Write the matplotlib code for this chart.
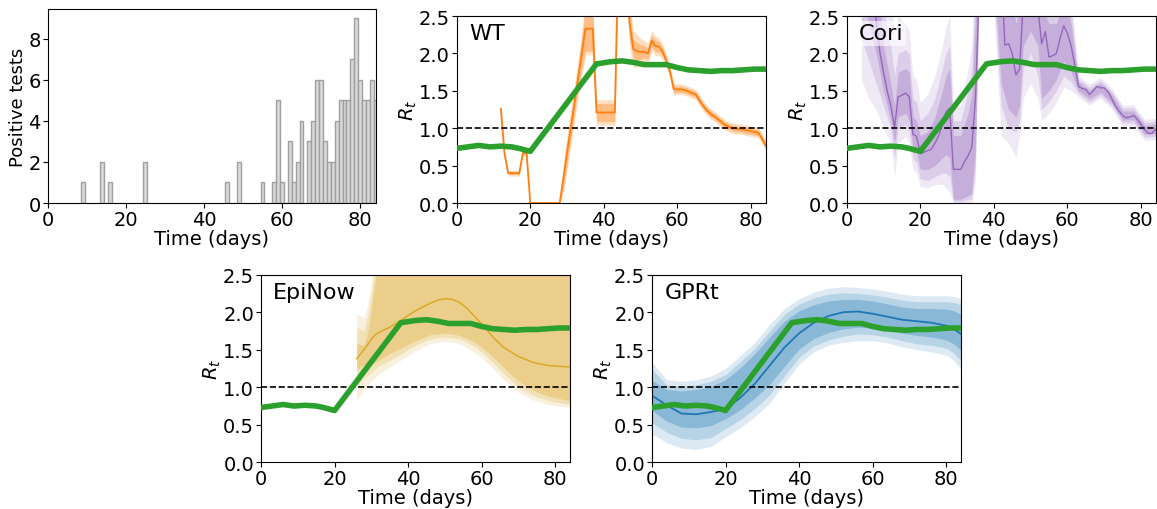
import matplotlib
matplotlib.use('Agg')
import matplotlib.pyplot as plt
import numpy as np

# ---- data ----

# positive tests per day
hist_days = [9, 14, 16, 25, 46, 49, 55, 58, 59, 60, 62, 63, 64, 65, 67, 68, 69, 70,
             71, 72, 73, 74, 75, 76, 77, 78, 79, 80, 81, 82, 83, 84]
hist_counts = [1, 2, 1, 2, 1, 2, 1, 1, 5, 1, 3, 1, 2, 4, 3, 4, 6, 6,
               3, 2, 2, 4, 5, 5, 5, 7, 9, 6, 5, 5, 6, 5]

# true Rt (green)
true_days = [0, 3, 6, 9, 12, 15, 17, 20, 38, 42, 45, 48, 51, 54, 57, 60, 63, 66,
             69, 72, 75, 78, 81, 84]
true_rt = [0.73, 0.75, 0.77, 0.75, 0.76, 0.75, 0.73, 0.69, 1.86, 1.89, 1.90, 1.88,
           1.85, 1.85, 1.85, 1.81, 1.78, 1.77, 1.76, 1.77, 1.77, 1.78, 1.79, 1.79]

# WT estimate, days 12..84
wt_days = np.arange(12, 85)
wt_mean = [1.26, 0.66, 0.40, 0.40, 0.40, 0.40, 0.67, 0.67, 0.00, 0.00,
           0.00, 0.00, 0.00, 0.00, 0.00, 0.00, 0.00, 0.33, 0.67, 1.00,
           1.33, 1.67, 2.00, 2.33, 2.33, 2.33, 1.21, 1.21, 1.21, 1.21,
           1.21, 1.21, 3.50, 3.60, 3.20, 2.40, 2.06, 2.03, 2.02, 2.02,
           2.00, 2.17, 2.10, 2.09, 2.02, 1.90, 1.75, 1.52, 1.52, 1.52,
           1.51, 1.49, 1.47, 1.45, 1.37, 1.30, 1.24, 1.19, 1.16, 1.12,
           1.08, 1.04, 1.02, 1.00, 0.99, 0.99, 0.98, 0.97, 0.96, 0.95, 0.94, 0.86, 0.77]
wt_w_in = [0.02, 0.02, 0.02, 0.02, 0.02, 0.02, 0.02, 0.02, 0.00, 0.00,
           0.00, 0.00, 0.00, 0.00, 0.00, 0.00, 0.00, 0.12, 0.15, 0.15,
           0.15, 0.15, 0.20, 0.30, 0.30, 0.30, 0.12, 0.12, 0.12, 0.12,
           0.12, 0.12, 0.30, 0.30, 0.30, 0.20, 0.12, 0.12, 0.10, 0.08,
           0.08, 0.08, 0.08, 0.07, 0.06, 0.05, 0.05, 0.05, 0.04, 0.04,
           0.04, 0.04, 0.04, 0.04, 0.04, 0.04, 0.04, 0.04, 0.04, 0.04,
           0.04, 0.04, 0.04, 0.04, 0.04, 0.04, 0.04, 0.04, 0.04, 0.04, 0.04, 0.04, 0.04]
wt_w_out = [0.04, 0.04, 0.04, 0.04, 0.04, 0.04, 0.04, 0.04, 0.00, 0.00,
            0.00, 0.00, 0.00, 0.00, 0.00, 0.00, 0.00, 0.20, 0.25, 0.25,
            0.25, 0.25, 0.30, 0.35, 0.35, 0.35, 0.17, 0.17, 0.17, 0.17,
            0.17, 0.17, 0.40, 0.40, 0.40, 0.30, 0.25, 0.22, 0.18, 0.15,
            0.14, 0.14, 0.13, 0.12, 0.10, 0.09, 0.08, 0.08, 0.07, 0.07,
            0.07, 0.07, 0.07, 0.07, 0.07, 0.07, 0.07, 0.07, 0.07, 0.07,
            0.07, 0.07, 0.07, 0.07, 0.07, 0.07, 0.07, 0.07, 0.07, 0.07, 0.07, 0.07, 0.07]

# Cori estimate, days 4..84
cori_days = np.arange(4, 85)
cori_mean = [4.50, 4.20, 3.80, 3.20, 2.45, 2.02, 1.75, 1.50, 1.30, 1.01,
             1.42, 1.44, 1.47, 1.42, 0.92, 0.89, 0.66, 0.68, 0.70, 0.72,
             0.80, 0.90, 1.05, 1.22, 1.27, 0.45, 0.45, 0.45, 0.55, 0.63,
             0.74, 1.40, 2.80, 3.50, 4.00, 4.00, 3.80, 3.40, 3.20, 2.11,
             2.13, 2.00, 1.71, 1.79, 2.70, 3.00, 3.00, 2.90, 2.60, 2.13,
             2.29, 1.95, 1.97, 2.00, 2.20, 2.37, 2.27, 2.10, 1.85, 1.56,
             1.53, 1.52, 1.45, 1.50, 1.56, 1.54, 1.54, 1.49, 1.40, 1.30,
             1.23, 1.17, 1.14, 1.15, 1.17, 1.12, 1.05, 0.98, 0.93, 0.93, 0.99]
cori_band_days = [4, 6, 8, 10, 12, 13, 14, 16, 17, 18, 19, 20, 22, 24, 26, 27, 28, 29,
                  31, 33, 34, 35, 36, 40, 42, 44, 46, 47, 48, 50, 52, 53, 55, 57, 59,
                  61, 63, 66, 69, 72, 75, 78, 81, 84]
cori_o_lo = [1.65, 1.40, 1.25, 1.00, 0.80, 0.35, 0.80, 0.90, 0.80, 0.45, 0.40, 0.22,
             0.20, 0.25, 0.25, 0.20, 0.15, 0.00, 0.00, 0.00, 0.00, 0.30, 2.60, 2.60,
             0.90, 0.80, 0.62, 0.90, 1.40, 1.60, 1.40, 1.10, 1.20, 1.35, 1.55, 1.50,
             1.42, 1.31, 1.40, 1.26, 1.03, 1.03, 0.84, 0.85]
cori_m_lo = [2.20, 1.90, 1.60, 1.30, 1.00, 0.60, 1.00, 1.05, 0.95, 0.60, 0.55, 0.32,
             0.30, 0.35, 0.40, 0.40, 0.35, 0.02, 0.02, 0.05, 0.05, 0.50, 2.80, 2.80,
             1.30, 1.00, 0.95, 1.10, 1.80, 2.00, 1.70, 1.25, 1.35, 1.50, 1.70, 1.62,
             1.46, 1.35, 1.44, 1.30, 1.07, 1.07, 0.88, 0.89]
cori_i_lo = [2.80, 2.40, 2.00, 1.50, 1.10, 0.80, 1.15, 1.20, 1.10, 0.75, 0.70, 0.45,
             0.45, 0.50, 0.60, 0.65, 0.60, 0.05, 0.05, 0.10, 0.12, 0.70, 3.00, 3.00,
             1.60, 1.25, 1.15, 1.30, 2.10, 2.30, 2.10, 1.40, 1.50, 1.65, 1.90, 1.75,
             1.50, 1.39, 1.48, 1.34, 1.11, 1.11, 0.92, 0.93]
cori_i_hi = [5.00, 5.00, 3.20, 2.10, 1.60, 1.30, 1.75, 1.80, 1.75, 1.15, 1.10, 0.90,
             0.95, 1.15, 1.50, 1.70, 1.80, 0.90, 0.90, 1.20, 1.45, 2.50, 4.00, 5.00,
             3.80, 2.90, 2.40, 2.60, 3.40, 3.70, 3.20, 2.60, 2.40, 2.40, 2.75, 2.40,
             1.62, 1.51, 1.60, 1.46, 1.23, 1.23, 1.04, 1.05]
cori_m_hi = [5.00, 5.00, 4.00, 2.60, 2.10, 1.70, 2.00, 2.05, 2.00, 1.40, 1.35, 1.10,
             1.20, 1.40, 1.80, 2.00, 2.10, 1.10, 1.10, 1.50, 1.80, 3.00, 5.00, 5.00,
             4.00, 3.50, 3.00, 3.00, 4.00, 4.00, 3.60, 3.00, 2.70, 2.70, 3.00, 2.60,
             1.66, 1.55, 1.64, 1.50, 1.27, 1.27, 1.08, 1.09]
cori_o_hi = [5.00, 5.00, 5.00, 3.20, 2.70, 2.30, 2.50, 2.40, 2.30, 1.70, 1.65, 1.35,
             1.45, 1.70, 2.10, 2.35, 2.50, 1.30, 1.30, 1.80, 2.10, 3.50, 5.00, 5.00,
             5.00, 4.00, 3.50, 3.50, 5.00, 5.00, 4.00, 3.30, 3.00, 3.00, 3.30, 2.80,
             1.70, 1.59, 1.68, 1.54, 1.31, 1.31, 1.12, 1.13]

# EpiNow estimate
epi_days = [26, 28, 29, 30, 31, 32, 35, 38, 42, 46, 48, 50, 52, 54, 56, 58, 60, 62,
            64, 66, 70, 74, 78, 84]
epi_mean = [1.38, 1.50, 1.57, 1.64, 1.70, 1.73, 1.80, 1.89, 2.02, 2.12, 2.16, 2.18,
            2.17, 2.13, 2.05, 1.95, 1.84, 1.73, 1.62, 1.53, 1.41, 1.33, 1.29, 1.27]
epi_i_lo = [1.24, 1.30, 1.30, 1.30, 1.33, 1.36, 1.45, 1.52, 1.62, 1.70, 1.71, 1.72,
            1.71, 1.69, 1.65, 1.60, 1.53, 1.45, 1.36, 1.26, 1.08, 0.96, 0.88, 0.82]
epi_i_hi = [1.58, 1.56, 1.72, 2.05, 2.40, 2.80, 3.50, 3.50, 3.50, 3.50, 3.50, 3.50,
            3.50, 3.50, 3.50, 3.50, 3.50, 3.50, 3.50, 3.50, 3.50, 3.50, 3.50, 3.50]
epi_m_lo = [1.00, 1.12, 1.16, 1.20, 1.24, 1.28, 1.36, 1.44, 1.56, 1.64, 1.66, 1.67,
            1.66, 1.64, 1.60, 1.54, 1.47, 1.38, 1.28, 1.18, 1.00, 0.89, 0.82, 0.77]
epi_m_hi = [1.80, 1.75, 1.95, 2.25, 2.60, 3.00, 3.50, 3.50, 3.50, 3.50, 3.50, 3.50,
            3.50, 3.50, 3.50, 3.50, 3.50, 3.50, 3.50, 3.50, 3.50, 3.50, 3.50, 3.50]
epi_o_lo = [0.82, 0.96, 1.02, 1.08, 1.13, 1.17, 1.27, 1.36, 1.49, 1.58, 1.60, 1.61,
            1.60, 1.58, 1.53, 1.47, 1.39, 1.30, 1.20, 1.10, 0.93, 0.83, 0.77, 0.73]
epi_o_hi = [1.98, 1.93, 2.10, 2.40, 2.70, 3.20, 3.50, 3.50, 3.50, 3.50, 3.50, 3.50,
            3.50, 3.50, 3.50, 3.50, 3.50, 3.50, 3.50, 3.50, 3.50, 3.50, 3.50, 3.50]

# GPRt estimate
gp_days = [0, 4, 8, 12, 16, 20, 24, 28, 32, 36, 40, 44, 48, 52, 56, 60, 64, 68, 72,
           76, 80, 82, 84]
gp_mean = [0.89, 0.76, 0.65, 0.64, 0.67, 0.71, 0.86, 1.05, 1.29, 1.53, 1.72, 1.86,
           1.95, 2.00, 2.01, 1.98, 1.94, 1.90, 1.88, 1.86, 1.82, 1.78, 1.71]
gp_o_hi = [1.33, 1.10, 1.08, 1.10, 1.15, 1.25, 1.42, 1.60, 1.84, 2.05, 2.18, 2.27,
           2.32, 2.34, 2.33, 2.31, 2.28, 2.24, 2.22, 2.22, 2.22, 2.21, 2.18]
gp_m_hi = [1.24, 1.03, 1.01, 1.03, 1.08, 1.17, 1.34, 1.52, 1.75, 1.97, 2.11, 2.19,
           2.24, 2.26, 2.25, 2.23, 2.20, 2.16, 2.14, 2.14, 2.14, 2.13, 2.10]
gp_i_hi = [1.09, 0.97, 0.95, 0.97, 1.01, 1.10, 1.26, 1.45, 1.67, 1.88, 2.02, 2.10,
           2.15, 2.17, 2.17, 2.15, 2.11, 2.07, 2.05, 2.05, 2.04, 2.02, 1.97]
gp_i_lo = [0.69, 0.55, 0.47, 0.46, 0.49, 0.58, 0.70, 0.86, 1.04, 1.28, 1.51, 1.65,
           1.73, 1.78, 1.80, 1.79, 1.76, 1.72, 1.69, 1.67, 1.63, 1.58, 1.49]
gp_m_lo = [0.53, 0.40, 0.32, 0.30, 0.33, 0.45, 0.57, 0.72, 0.90, 1.15, 1.40, 1.55,
           1.63, 1.68, 1.71, 1.70, 1.67, 1.62, 1.58, 1.56, 1.52, 1.46, 1.35]
gp_o_lo = [0.38, 0.26, 0.19, 0.17, 0.21, 0.34, 0.46, 0.61, 0.79, 1.05, 1.31, 1.47,
           1.56, 1.60, 1.62, 1.62, 1.59, 1.54, 1.50, 1.47, 1.43, 1.36, 1.24]

# ---- figure ----
plt.rcParams['font.family'] = 'DejaVu Sans'
plt.rcParams['font.size'] = 13
plt.rcParams['xtick.labelsize'] = 14
plt.rcParams['ytick.labelsize'] = 14
plt.rcParams['xtick.major.pad'] = 1.5
plt.rcParams['ytick.major.pad'] = 1.5

W, H = 1157, 510
fig = plt.figure(figsize=(W / 100, H / 100), dpi=100)


def add_ax(left, top, right, bottom):
    return fig.add_axes([left / W, 1 - bottom / H, (right - left) / W, (bottom - top) / H])


def rt_panel(ax, name):
    ax.axhline(1.0, color='black', linestyle='--', linewidth=1.2, zorder=4)
    ax.plot(true_days, true_rt, color='#2ca02c', linewidth=4, zorder=5)
    ax.set_xlim(0, 84)
    ax.set_ylim(0, 2.5)
    ax.set_xticks([0, 20, 40, 60, 80])
    ax.set_yticks([0.0, 0.5, 1.0, 1.5, 2.0, 2.5])
    ax.set_xlabel('Time (days)', fontsize=14, labelpad=0)
    ax.set_ylabel('$R_t$', fontsize=14, labelpad=0)
    ax.text(0.04, 0.96, name, transform=ax.transAxes, fontsize=16, va='top', ha='left',
            zorder=6, bbox=dict(facecolor='white', alpha=0.6, edgecolor='none', pad=2))


def bands(ax, x, los, his, color):
    for lo, hi, a in zip(los, his, [0.15, 0.2, 0.3]):
        ax.fill_between(x, lo, hi, color=color, alpha=a, linewidth=0)


# histogram
ax0 = add_ax(47.7, 10, 375.7, 204)
ax0.bar(hist_days, hist_counts, width=1.0, color='#d9d9d9', edgecolor='#a0a0a0', linewidth=1)
ax0.set_xlim(0, 84)
ax0.set_xticks([0, 20, 40, 60, 80])
ax0.set_yticks([0, 2, 4, 6, 8])
ax0.set_xlabel('Time (days)', fontsize=14, labelpad=0)
ax0.set_ylabel('Positive tests', labelpad=1)

# WT
ax1 = add_ax(456.7, 17, 765.7, 204)
wm = np.array(wt_mean)
ax1.fill_between(wt_days, wm - np.array(wt_w_out), wm + np.array(wt_w_out),
                 color='#ff7f0e', alpha=0.25, linewidth=0)
ax1.fill_between(wt_days, wm - np.array(wt_w_in), wm + np.array(wt_w_in),
                 color='#ff7f0e', alpha=0.35, linewidth=0)
ax1.plot(wt_days, wt_mean, color='#ff7f0e', linewidth=1.3)
rt_panel(ax1, 'WT')

# Cori
ax2 = add_ax(846.7, 17, 1155.7, 204)
bands(ax2, cori_band_days, [cori_o_lo, cori_m_lo, cori_i_lo],
      [cori_o_hi, cori_m_hi, cori_i_hi], '#9467bd')
ax2.plot(cori_days, cori_mean, color='#9467bd', linewidth=1.0)
rt_panel(ax2, 'Cori')

# EpiNow
ax3 = add_ax(261, 275.7, 570, 463.3)
bands(ax3, epi_days, [epi_o_lo, epi_m_lo, epi_i_lo], [epi_o_hi, epi_m_hi, epi_i_hi], '#daa520')
ax3.plot(epi_days, epi_mean, color='#daa520', linewidth=1.0)
rt_panel(ax3, 'EpiNow')

# GPRt
ax4 = add_ax(652, 275.7, 961, 463.3)
bands(ax4, gp_days, [gp_o_lo, gp_m_lo, gp_i_lo], [gp_o_hi, gp_m_hi, gp_i_hi], '#1f77b4')
ax4.plot(gp_days, gp_mean, color='#1f77b4', linewidth=1.3)
rt_panel(ax4, 'GPRt')

fig.savefig('out.png', dpi=100)
